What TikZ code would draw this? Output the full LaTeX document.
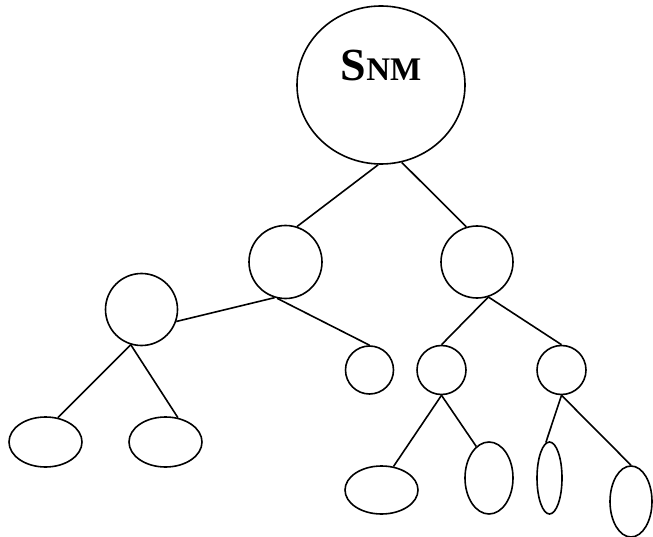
\documentclass[tikz,border=0pt]{standalone}
\usepackage{fontspec}
\setmainfont{Liberation Serif}
\usetikzlibrary{shapes.geometric}
\begin{document}
\begin{tikzpicture}[x=1pt,y=-1pt,line width=1.6pt,
  circ/.style={draw,circle,inner sep=0pt,minimum size=#1},
  oval/.style 2 args={draw,ellipse,inner sep=0pt,minimum width=#1,minimum height=#2}]
\useasboundingbox (0,0) rectangle (653,537);
\def\big{\fontsize{46}{46}\selectfont\bfseries}
\def\sml{\fontsize{33}{33}\selectfont\bfseries}
\node[oval={168pt}{158pt},label={[yshift=20pt]center:{\big S\sml NM}}] (root) at (381,85) {};
\node[circ=73pt] (lm) at (285.5,262) {};
\node[circ=72pt] (rm) at (477,262) {};
\node[circ=72pt] (ll) at (141.5,309.5) {};
\node[circ=48pt] (c1) at (369.5,370) {};
\node[circ=49pt] (c2) at (441.5,370) {};
\node[circ=49pt] (c3) at (561.5,370) {};
\node[oval={73pt}{50pt}] (e1) at (45.5,442) {};
\node[oval={73pt}{50pt}] (e2) at (165.5,442) {};
\node[oval={73pt}{48pt}] (e3) at (381.5,490) {};
\node[oval={48pt}{72pt}] (e4) at (489,478) {};
\node[oval={25pt}{72pt}] (e5) at (549.5,478) {};
\node[oval={42pt}{71pt}] (e6) at (631,501.5) {};
\draw (root.268) -- (lm.72);
\draw (root.285) -- (rm.107);
\draw (lm.-107) -- (ll.-19);
\draw (lm.-103) -- (c1.north);
\draw (rm.-72) -- (c2.north);
\draw (rm.-72) -- (c3.north);
\draw (ll.-107) -- (e1.63);
\draw (ll.-107) -- (e2.63);
\draw (c2.south) -- (e3.63);
\draw (c2.south) -- (e4.112);
\draw (c3.south) -- (e5.96);
\draw (c3.south) -- (e6.north);
\end{tikzpicture}
\end{document}
